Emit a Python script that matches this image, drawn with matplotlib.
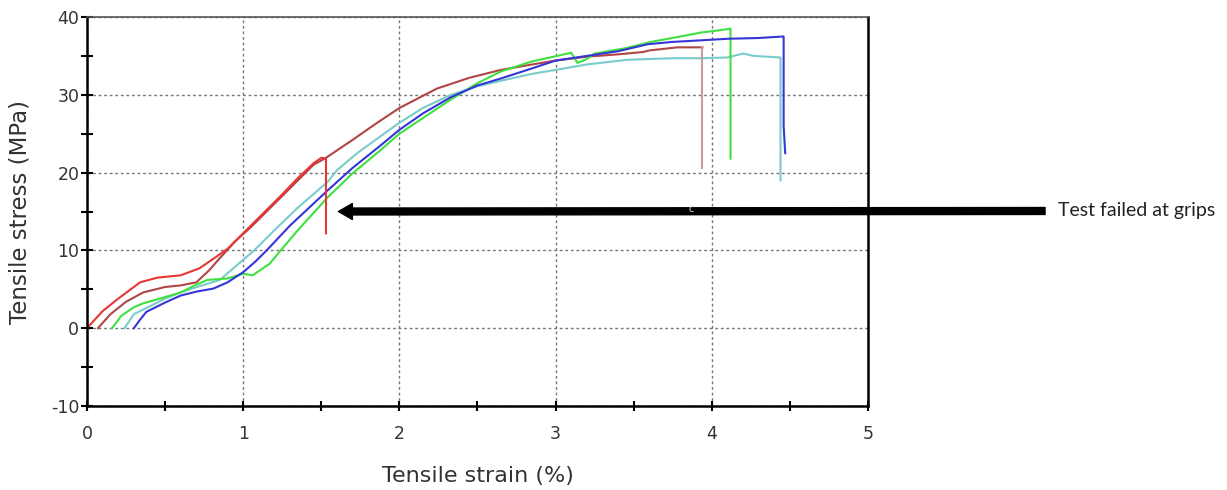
import matplotlib
matplotlib.use('Agg')
from matplotlib import pyplot as plt
from matplotlib.ticker import MultipleLocator

plt.rcParams['axes.unicode_minus'] = False

# strain (%) / stress (MPa) for the five specimens
red_x = [0, 0.1, 0.2, 0.34, 0.45, 0.6, 0.72, 0.8, 0.9, 1.0, 1.1, 1.24, 1.35, 1.45, 1.5, 1.53, 1.53]
red_y = [0, 2.2, 3.8, 5.9, 6.5, 6.8, 7.7, 8.8, 10.2, 12.2, 14.2, 17.0, 19.3, 21.2, 21.9, 21.8, 12.2]

brown_x = [0.07, 0.15, 0.25, 0.36, 0.5, 0.6, 0.7, 0.78, 0.85, 0.95, 1.05, 1.24, 1.45, 1.53, 1.7, 1.85,
           2.0, 2.24, 2.45, 2.65, 2.85, 3.0, 3.2, 3.4, 3.56, 3.6, 3.78, 3.94, 3.94]
brown_y = [0, 1.8, 3.4, 4.6, 5.3, 5.5, 5.9, 7.4, 9.0, 11.2, 13.0, 16.8, 21.0, 21.9, 24.2, 26.3,
           28.3, 30.8, 32.2, 33.2, 33.9, 34.4, 34.9, 35.2, 35.5, 35.7, 36.1, 36.1, 20.6]

green_x = [0.16, 0.22, 0.3, 0.36, 0.5, 0.6, 0.7, 0.77, 0.9, 1.0, 1.06, 1.17, 1.24, 1.35, 1.54, 1.7,
           1.88, 2.0, 2.15, 2.33, 2.5, 2.65, 2.85, 3.1, 3.14, 3.2, 3.25, 3.45, 3.61, 3.8, 3.93,
           4.05, 4.12, 4.12]
green_y = [0, 1.6, 2.7, 3.2, 4.0, 4.6, 5.6, 6.2, 6.4, 7.0, 6.8, 8.3, 10.0, 12.6, 16.8, 19.9,
           22.9, 25.0, 27.0, 29.4, 31.5, 33.0, 34.3, 35.4, 34.1, 34.6, 35.3, 36.0, 36.8, 37.5, 38.0,
           38.3, 38.5, 21.8]

cyan_x = [0.24, 0.3, 0.38, 0.5, 0.6, 0.72, 0.85, 0.96, 1.07, 1.2, 1.35, 1.54, 1.6, 1.73, 1.86,
          2.0, 2.15, 2.33, 2.5, 2.65, 2.85, 3.0, 3.2, 3.46, 3.6, 3.75, 3.93, 4.1, 4.2, 4.27,
          4.35, 4.44, 4.44]
cyan_y = [0, 1.8, 2.6, 3.8, 4.6, 5.4, 6.2, 8.1, 10.0, 12.6, 15.5, 18.8, 20.3, 22.5, 24.4,
          26.4, 28.3, 30.0, 31.1, 31.8, 32.7, 33.2, 33.9, 34.5, 34.6, 34.7, 34.7, 34.8, 35.3, 35.0,
          34.9, 34.8, 19.0]

blue_x = [0.3, 0.34, 0.38, 0.5, 0.6, 0.7, 0.81, 0.9, 1.0, 1.08, 1.15, 1.3, 1.54, 1.7, 1.88,
          2.0, 2.15, 2.33, 2.5, 2.65, 2.85, 3.0, 3.2, 3.4, 3.59, 3.75, 3.93, 4.1, 4.3, 4.46,
          4.46, 4.47]
blue_y = [0, 1.1, 2.1, 3.3, 4.2, 4.7, 5.1, 5.9, 7.2, 8.6, 10.0, 13.2, 17.7, 20.6, 23.5,
          25.5, 27.6, 29.7, 31.2, 32.1, 33.4, 34.4, 35.0, 35.6, 36.5, 36.8, 37.0, 37.2, 37.3, 37.5,
          26.0, 22.5]

fig = plt.figure(figsize=(12.27, 4.90), dpi=100)
ax = fig.add_axes([0.0709, 0.1714, 0.6365, 0.7939])

ax.plot(cyan_x, cyan_y, color='#7acccc', lw=1.5)
ax.plot(brown_x[:-1], brown_y[:-1], color='#b04545', lw=1.5)
ax.plot(brown_x[-2:], brown_y[-2:], color='#c99a9a', lw=1.5)
ax.plot(green_x, green_y, color='#3fe03f', lw=1.5)
ax.plot(blue_x, blue_y, color='#3535d8', lw=1.5)
ax.plot(red_x, red_y, color='#e83535', lw=1.5)

ax.set_xlim(0, 5)
ax.set_ylim(-10, 40)
ax.xaxis.set_major_locator(MultipleLocator(1))
ax.xaxis.set_minor_locator(MultipleLocator(0.5))
ax.yaxis.set_major_locator(MultipleLocator(10))
ax.yaxis.set_minor_locator(MultipleLocator(5))
ax.tick_params(which='both', direction='inout', width=1.5, colors='black', labelcolor='#333333', labelsize=12.5)
ax.tick_params(axis='x', which='both', length=7, pad=10)
ax.tick_params(axis='y', which='both', length=9, pad=1)
ax.grid(True, which='major', color='#777777', linestyle=(0, (2, 2)), lw=1)

for s in ['left', 'bottom', 'right']:
    ax.spines[s].set_linewidth(1.8)
    ax.spines[s].set_color('black')
ax.spines['top'].set_color('#555555')
ax.spines['top'].set_linewidth(1.2)

ax.set_xlabel('Tensile strain (%)', fontsize=16, color='#333333', labelpad=17)
ax.set_ylabel('Tensile stress (MPa)', fontsize=16.5, color='#333333', labelpad=14)

ax.annotate('', xy=(1.61, 15.0), xycoords='data', xytext=(0.8517, 0.5694), textcoords='figure fraction',
            arrowprops=dict(arrowstyle='simple,head_length=1.0,head_width=1.15,tail_width=0.5',
                            mutation_scale=10, color='black', shrinkA=0, shrinkB=0),
            annotation_clip=False)
fig.text(0.862, 0.5694, 'Test failed at grips', fontsize=14, family='Lato', va='center', ha='left', color='#222222')
fig.text(0.5635, 0.574, 'c', fontsize=7, color='#dddddd', va='center', ha='center')

fig.savefig('out.png', dpi=100)
